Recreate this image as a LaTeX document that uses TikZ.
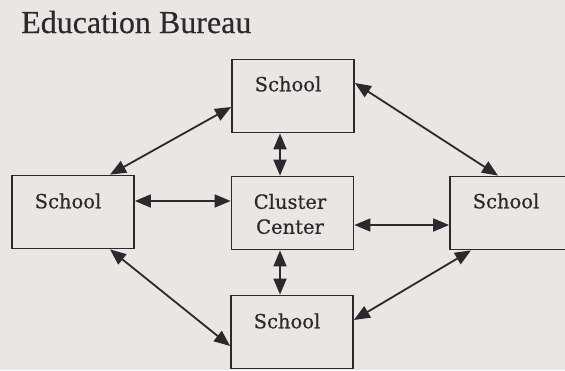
\documentclass[tikz,border=0pt]{standalone}
\usepackage{fontspec}
\setmainfont{Liberation Serif}
\newfontfamily\boxfont[BoldFont={DejaVu Serif}, BoldFeatures={FakeBold=0.6}]{DejaVu Serif}
\newfontfamily\titlefont[BoldFont={Liberation Serif}, BoldFeatures={FakeBold=0.4}]{Liberation Serif}
\usetikzlibrary{arrows.meta,calc}
\definecolor{paper}{RGB}{233,231,228}
\definecolor{ink}{RGB}{45,40,45}
\tikzset{
  box/.style={draw=ink, line width=1.8pt, minimum width=122pt, minimum height=73pt, inner sep=0pt},
  lbl/.style={text=ink, font=\boxfont\bfseries\fontsize{19.5}{25}\selectfont, align=center, inner sep=0pt},
  link/.style={draw=ink, line width=1.8pt, {Triangle[length=16pt,width=13pt]}-{Triangle[length=16pt,width=13pt]}},
}
\begin{document}
\begin{tikzpicture}[x=1pt,y=-1pt]
  \useasboundingbox (0,0) rectangle (565,370);
  \fill[paper] (0,0) rectangle (565,370);
  \clip (0,0) rectangle (565,370);

  \node[anchor=base west, text=ink, font=\titlefont\bfseries\fontsize{32}{36}\selectfont, inner sep=0pt] (title) at (21,33) {Education Bureau};

  % boxes
  \node[box] (T) at (293,96) {};
  \node[box] (L) at (73,212) {};
  \node[box] (C) at (292.5,213) {};
  \node[box] (R) at (511,213) {};
  \node[box] (B) at (292,332) {};

  % box texts
  \node[lbl] (tT) at (288,84) {School};
  \node[lbl] (tL) at (68,201) {School};
  \node[lbl] (tC) at (290,214) {Cluster\\Center};
  \node[lbl] (tR) at (506,201) {School};
  \node[lbl] (tB) at (287,321) {School};

  % connection points
  \coordinate (tv) at ($(T.south)+(-13,0)$);
  \coordinate (bv) at ($(B.north)+(-12,0)$);
  \coordinate (lh) at ($(L.east)+(0,-11)$);
  \coordinate (rh) at ($(C.east)+(0,12)$);
  \coordinate (lt1) at ($(L.north)+(37,0)$);
  \coordinate (lt2) at ($(T.west)+(0,11)$);
  \coordinate (tr1) at ($(T.east)+(0,-13)$);
  \coordinate (tr2) at ($(R.north)+(-13,0)$);
  \coordinate (lb1) at ($(L.south)+(37,0)$);
  \coordinate (lb2) at ($(B.west)+(0,14)$);
  \coordinate (br1) at ($(B.east)+(0,-12)$);
  \coordinate (br2) at ($(R.south)+(-40,0)$);

  % connectors
  \draw[link] (tv) -- (tv |- C.north);
  \draw[link] (C.south -| bv) -- (bv);
  \draw[link] (lh) -- (C.west |- lh);
  \draw[link] (rh) -- (R.west |- rh);
  \draw[link] (lt1) -- (lt2);
  \draw[link] (tr1) -- (tr2);
  \draw[link] (lb1) -- (lb2);
  \draw[link] (br1) -- (br2);
\end{tikzpicture}
\end{document}
